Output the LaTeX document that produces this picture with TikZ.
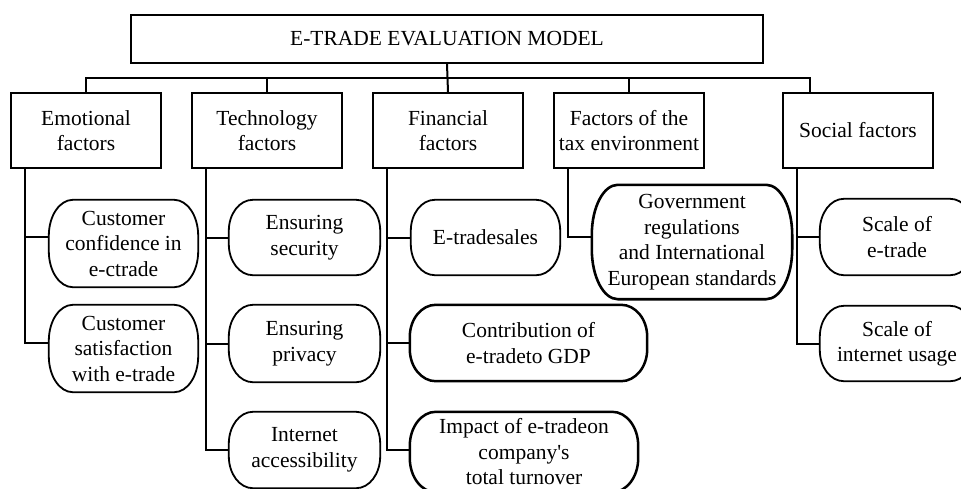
\documentclass[tikz,border=0pt]{standalone}
\usepackage{fontspec}
\setmainfont{Liberation Serif}
\usetikzlibrary{calc}
\newcommand\tf{\fontsize{21.5}{25.5}\selectfont}
% Outline with elliptical corners: #1 node, #2 corner width, #3 corner height, #4 line width
\newcommand\pilloutline[4]{%
  \draw[line width=#4]
    ($(#1.north west)+(0,#3)$)
    .. controls ($(#1.north west)+(0,0.448*#3)$) and ($(#1.north west)+(0.448*#2,0)$) .. ($(#1.north west)+(#2,0)$)
    -- ($(#1.north east)+(-#2,0)$)
    .. controls ($(#1.north east)+(-0.448*#2,0)$) and ($(#1.north east)+(0,0.448*#3)$) .. ($(#1.north east)+(0,#3)$)
    -- ($(#1.south east)+(0,-#3)$)
    .. controls ($(#1.south east)+(0,-0.448*#3)$) and ($(#1.south east)+(-0.448*#2,0)$) .. ($(#1.south east)+(-#2,0)$)
    -- ($(#1.south west)+(#2,0)$)
    .. controls ($(#1.south west)+(0.448*#2,0)$) and ($(#1.south west)+(0,-0.448*#3)$) .. ($(#1.south west)+(0,-#3)$)
    -- cycle;}
\tikzset{
  box/.style={draw, line width=1.8pt, inner sep=0pt, align=center, font=\tf,
    minimum width=150pt, minimum height=75pt},
  pill/.style={inner sep=0pt, align=center, font=\tf},
  link/.style={line width=2pt},
}
\begin{document}
\begin{tikzpicture}[x=1pt, y=-1pt]
\useasboundingbox (0,0) rectangle (961,488);
\clip (0,0) rectangle (961,488);

% title and factor groups
\node[box, minimum width=632pt, minimum height=48pt] (top) at (447,39) {E-TRADE EVALUATION MODEL};
\node[box] (emo)  at (86,130.5)  {Emotional\\factors};
\node[box] (tech) at (267,130.5) {Technology\\factors};
\node[box] (fin)  at (448,130.5) {Financial\\factors};
\node[box] (tax)  at (629,130.5) {Factors of the\\tax environment};
\node[box] (soc)  at (858,130.5) {Social factors};

% indicators
\node[pill, minimum width=149pt, minimum height=87pt] (e1) at (123.5,243.5) {Customer\\confidence in\\e-ctrade};
\node[pill, minimum width=149pt, minimum height=87pt] (e2) at (123.5,348.5) {Customer\\satisfaction\\with e-trade};
\node[pill, minimum width=151pt, minimum height=75pt] (t1) at (304.5,237.5) {Ensuring\\security};
\node[pill, minimum width=151pt, minimum height=77pt] (t2) at (304.5,343.5) {Ensuring\\privacy};
\node[pill, minimum width=151pt, minimum height=76pt] (t3) at (304.5,450) {Internet\\accessibility};
\node[pill, minimum width=149pt, minimum height=75pt] (f1) at (485.5,237.5) {E-tradesales};
\node[pill, minimum width=237pt, minimum height=76pt] (f2) at (528.5,343) {Contribution of\\e-tradeto GDP};
\node[pill, minimum width=228pt, minimum height=80pt] (f3) at (524,452) {Impact of e-tradeon\\company\textquotesingle s\\total turnover};
\node[pill, minimum width=200pt, minimum height=114pt] (x1) at (692,242) {Government\\regulations\\and International\\European standards};
\node[pill, minimum width=154pt, minimum height=76pt] (s1) at (897,237) {Scale of\\e-trade};
\node[pill, minimum width=154pt, minimum height=75pt] (s2) at (897,343.5) {Scale of\\internet usage};

\pilloutline{e1}{24}{36}{1.8pt}
\pilloutline{e2}{24}{36}{1.8pt}
\pilloutline{t1}{24}{31}{1.8pt}
\pilloutline{t2}{24}{32}{1.8pt}
\pilloutline{t3}{24}{32}{1.8pt}
\pilloutline{f1}{24}{31}{1.8pt}
\pilloutline{f2}{26}{32}{2.5pt}
\pilloutline{f3}{26}{34}{2.5pt}
\pilloutline{x1}{26}{50}{2.6pt}
\pilloutline{s1}{24}{32}{1.8pt}
\pilloutline{s2}{24}{31}{1.8pt}

% tree from title to groups
\coordinate (busL) at (86,78);
\coordinate (busR) at (810,78);
\draw[link] (emo.north) -- (emo.north |- busL) -- (busR) -- (busR |- soc.north);
\draw[link] (top.south) -- (fin.north);
\draw[link] (tech.north) -- (tech.north |- busL);
\draw[link] (tax.north) -- (tax.north |- busL);

% groups to indicators
\draw[link] ([xshift=15pt]emo.south west) |- ([yshift=6.5pt]e1.west);
\draw[link] ([xshift=15pt]emo.south west) |- ([yshift=5.5pt]e2.west);
\draw[link] ([xshift=15pt]tech.south west) |- (t1.west);
\draw[link] ([xshift=15pt]tech.south west) |- (t2.west);
\draw[link] ([xshift=15pt]tech.south west) |- (t3.west);
\draw[link] ([xshift=15pt]fin.south west) |- (f1.west);
\draw[link] ([xshift=15pt]fin.south west) |- (f2.west);
\draw[link] ([xshift=15pt]fin.south west) |- ([yshift=2pt]f3.west);
\draw[link] ([xshift=15pt]tax.south west) |- ([yshift=5pt]x1.west);
\draw[link] ([xshift=15pt]soc.south west) |- (s1.west);
\draw[link] ([xshift=15pt]soc.south west) |- (s2.west);
\end{tikzpicture}
\end{document}
